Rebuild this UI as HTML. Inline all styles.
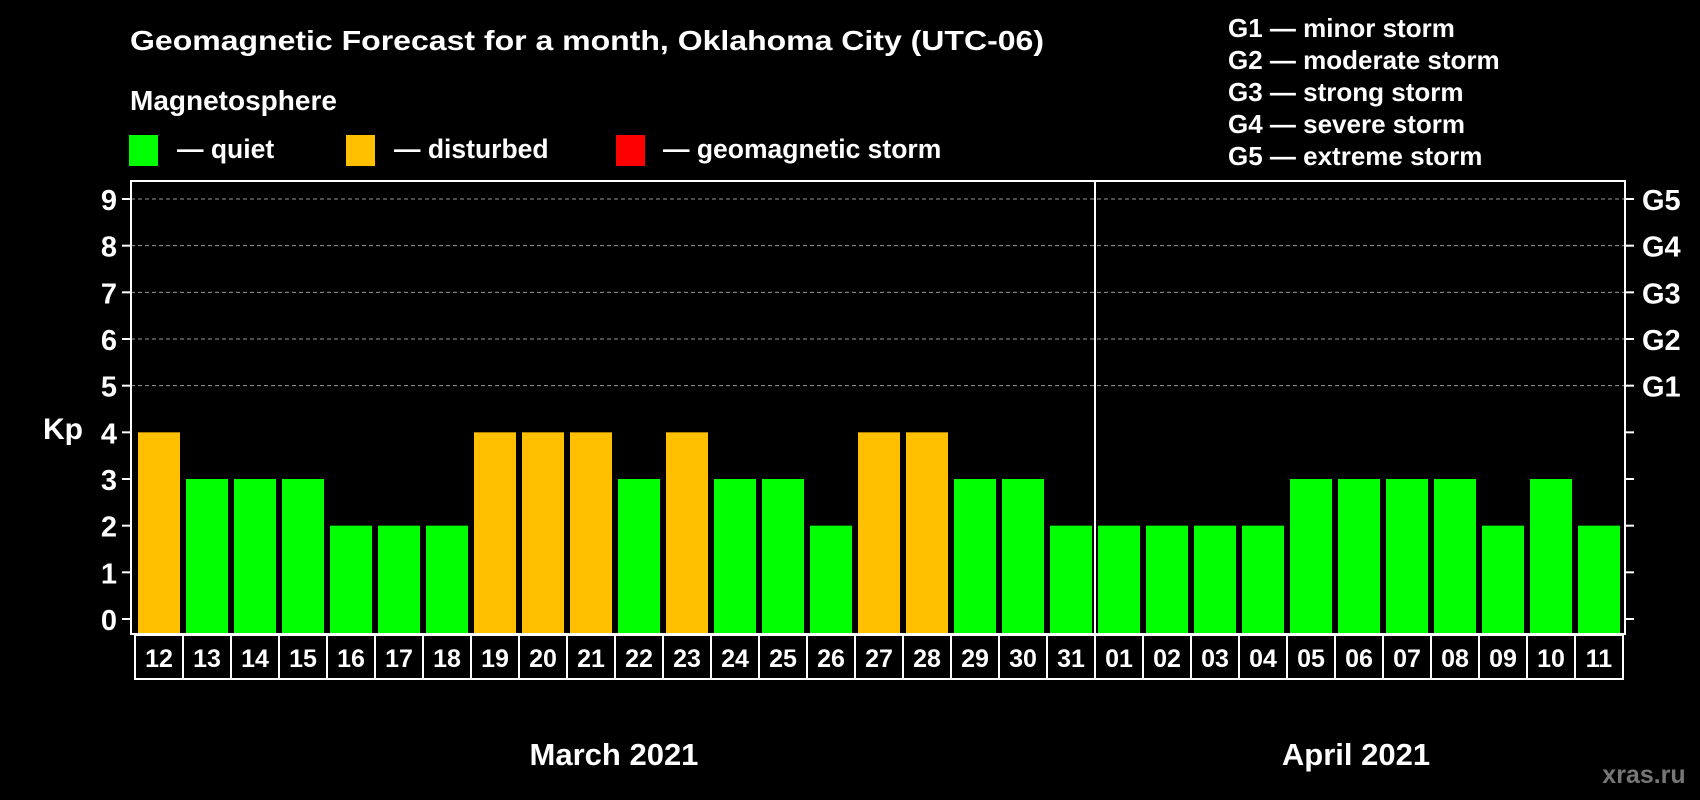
<!DOCTYPE html>
<html><head><meta charset="utf-8"><style>
html,body{margin:0;padding:0;background:#000;}
svg{display:block;font-family:"Liberation Sans",Arial,sans-serif;font-weight:bold;}
</style></head><body>
<svg id="chart" width="1700" height="800" viewBox="0 0 1700 800">
<rect x="0" y="0" width="1700" height="800" fill="#000"/>
<text x="130" y="50" fill="#fff" font-size="28" textLength="914" lengthAdjust="spacingAndGlyphs">Geomagnetic Forecast for a month, Oklahoma City (UTC-06)</text>
<text x="130" y="110" fill="#fff" font-size="28">Magnetosphere</text>
<g>
<rect x="129" y="135" width="29" height="31" fill="#00ff00"/>
<text x="177" y="158" fill="#fff" font-size="26.5">— quiet</text></g>
<g>
<rect x="346" y="135" width="29" height="31" fill="#ffc000"/>
<text x="394" y="158" fill="#fff" font-size="26.5">— disturbed</text></g>
<g>
<rect x="616" y="135" width="29" height="31" fill="#ff0000"/>
<text x="663" y="158" fill="#fff" font-size="26.5">— geomagnetic storm</text></g>
<g fill="#fff" font-size="26">
<text x="1228" y="37">G1 — minor storm</text>
<text x="1228" y="69">G2 — moderate storm</text>
<text x="1228" y="101">G3 — strong storm</text>
<text x="1228" y="133">G4 — severe storm</text>
<text x="1228" y="165">G5 — extreme storm</text>
</g>
<text x="63" y="439" fill="#fff" font-size="30" text-anchor="middle">Kp</text>
<text x="614" y="765" fill="#fff" font-size="31" text-anchor="middle">March 2021</text>
<text x="1356" y="765" fill="#fff" font-size="31" text-anchor="middle">April 2021</text>
<text x="1644" y="783" fill="#777" font-size="25" text-anchor="middle">xras.ru</text>
<g id="plot"></g>
</svg>
<script>
const days = ["12","13","14","15","16","17","18","19","20","21","22","23","24","25","26","27","28","29","30","31","01","02","03","04","05","06","07","08","09","10","11"];
const kpValues = [4,3,3,3,2,2,2,4,4,4,3,4,3,3,2,4,4,3,3,2,2,2,2,2,3,3,3,3,2,3,2];
const yTicks = [0,1,2,3,4,5,6,7,8,9];
const gLabels = ["","","","","","G1","G2","G3","G4","G5"];

const NS="http://www.w3.org/2000/svg";
const plot=document.getElementById('plot');
const L=131,R=1625,T=181,B=634,Y0=619,UNIT=(619-199)/9;
const X0=135,STEP=48;
function y(v){return Y0-v*UNIT;}
function x(i){return X0+i*STEP;}
function mk(tag,attrs){const e=document.createElementNS(NS,tag);for(const k in attrs)e.setAttribute(k,attrs[k]);plot.appendChild(e);return e;}
function color(v){return v>=5?"#ff0000":(v>=4?"#ffc000":"#00ff00");}

yTicks.forEach((t,i)=>{
  if(t>=5){const g=mk('line',{x1:L,x2:R,y1:y(t),y2:y(t),stroke:"#999","stroke-dasharray":"4,3","stroke-width":1});
    
    }
  const tl=mk('line',{x1:L-9,x2:L,y1:y(t),y2:y(t),stroke:"#fff","stroke-width":2});
  
  
  const tr=mk('line',{x1:R,x2:R+9,y1:y(t),y2:y(t),stroke:"#fff","stroke-width":2});
  
  
  const lb=mk('text',{x:117,y:y(t)+11,fill:"#fff","font-size":29,"text-anchor":"end"});
  lb.textContent=t;
  
  
  if(gLabels[i]){const gl=mk('text',{x:1642,y:y(t)+11,fill:"#fff","font-size":29});
    gl.textContent=gLabels[i];
    
    }
});

kpValues.forEach((v,i)=>{
  const b=mk('rect',{x:x(i)+3,y:y(v),width:42,height:B-y(v),fill:color(v)});
  
  
  const c=mk('rect',{x:x(i),y:635,width:STEP,height:44,fill:"none",stroke:"#fff","stroke-width":2});
  
  
  const t=mk('text',{x:x(i)+STEP/2,y:667,fill:"#fff","font-size":25,"text-anchor":"middle"});
  t.textContent=days[i];
  
  
});

const fr=mk('rect',{x:L,y:T,width:R-L,height:B-T,fill:"none",stroke:"#fff","stroke-width":2});


const sep=days.indexOf("01");
const ml=mk('line',{x1:x(sep),x2:x(sep),y1:T,y2:B,stroke:"#fff","stroke-width":2});


</script>
</body></html>
